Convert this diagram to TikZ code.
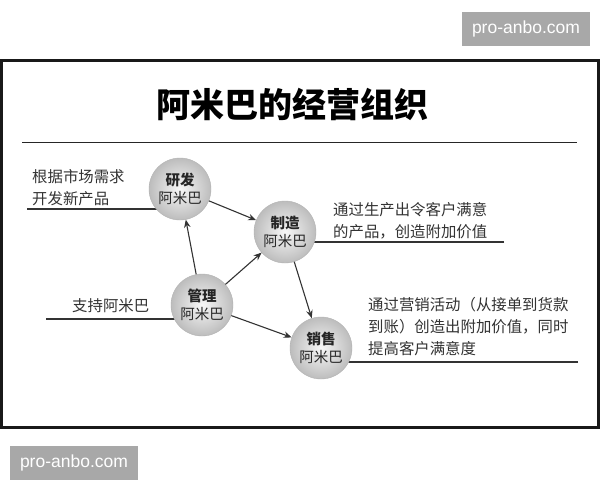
\documentclass[tikz,border=0pt]{standalone}
\usepackage{fontspec}
\newfontfamily\cjk{Noto Sans CJK SC}
\newfontfamily\wmfont{Liberation Sans}
\usetikzlibrary{arrows.meta,backgrounds,shadings}
\definecolor{txt}{HTML}{333333}
\definecolor{wm}{HTML}{A8A8A8}
\tikzset{
  ball/.style={circle, minimum size=62pt, inner sep=0pt, shading=radial,
    inner color=gray!6, outer color=gray!52, draw=gray!60, line width=0.4pt,
    text=black!85, align=center, font=\cjk\fontsize{14.5}{17.5}\selectfont},
  lab/.style={anchor=west, inner sep=0pt, align=left, text=txt,
    font=\cjk\fontsize{15.4}{22}\selectfont},
  arr/.style={draw=txt, line width=1.1pt, -{Stealth[length=8pt,width=6.5pt]}},
  rule/.style={draw=txt, line width=1.2pt},
  wmbox/.style={fill=wm, text=white, inner sep=0pt, minimum width=128pt,
    minimum height=34pt, font=\wmfont\fontsize{17.5}{20}\selectfont}
}
\begin{document}
\begin{tikzpicture}[x=1pt,y=-1pt]
\useasboundingbox (0,0) rectangle (600,480);
\begin{scope}[on background layer]
\fill[white] (0,0) rectangle (600,480);
\end{scope}
% watermarks
\node[wmbox] (wm1) at (526,28.5) {pro-anbo.com};
\node[wmbox] (wm2) at (74,463) {pro-anbo.com};
% frame
\draw[line width=3pt, draw=black!90] (1.5,60) rectangle (598.5,427);
% title
\node[font=\cjk\bfseries\fontsize{34}{40}\selectfont, text=black, inner sep=0pt] (title) at (292,104) {阿米巴的经营组织};
\coordinate (t1) at (22,142.5);
\coordinate (t2) at (577,142.5);
\draw[line width=1.8pt, draw=black!85] (t1) -- (t2);
% balls
\node[ball] (yanfa) at (180,189) {\textbf{研发}\\阿米巴};
\node[ball] (zhizao) at (285,232) {\textbf{制造}\\阿米巴};
\node[ball] (guanli) at (202,305) {\textbf{管理}\\阿米巴};
\node[ball] (xiaoshou) at (321,348) {\textbf{销售}\\阿米巴};
% labels
\node[lab] (l1) at (32,187.5) {根据市场需求\\开发新产品};
\node[lab] (l2) at (333,221) {通过生产出令客户满意\\的产品，创造附加价值};
\node[lab] (l3) at (72,306) {支持阿米巴};
\node[lab] (l4) at (368,327) {通过营销活动（从接单到货款\\到账）创造出附加价值，同时\\提高客户满意度};
% rules behind balls
\coordinate (r1) at (27,209);
\coordinate (r2) at (504,242);
\coordinate (r3) at (46,319);
\coordinate (r4) at (578,362);
\begin{scope}[on background layer]
\draw[rule] (r1) -- (yanfa.center |- r1);
\draw[rule] (r2) -- (zhizao.center |- r2);
\draw[rule] (r3) -- (guanli.center |- r3);
\draw[rule] (r4) -- (xiaoshou.center |- r4);
\end{scope}
% arrows
\draw[arr] (yanfa) -- (zhizao);
\draw[arr] (guanli) -- (yanfa);
\draw[arr] (guanli) -- (zhizao);
\draw[arr] (zhizao) -- (xiaoshou);
\draw[arr] (guanli) -- (xiaoshou);
\end{tikzpicture}
\end{document}
